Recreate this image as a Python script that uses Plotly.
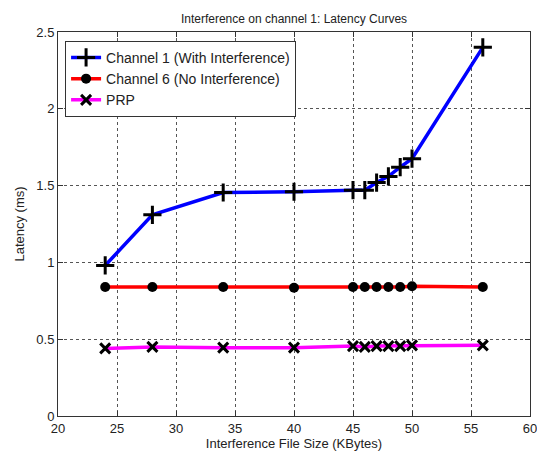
import plotly.graph_objects as go

file_size = [24, 28, 34, 40, 45, 46, 47, 48, 49, 50, 56]
ch1_latency = [0.98, 1.31, 1.455, 1.46, 1.47, 1.47, 1.52, 1.56, 1.62, 1.675, 2.40]
ch6_latency = [0.84, 0.84, 0.84, 0.835, 0.84, 0.84, 0.84, 0.84, 0.84, 0.845, 0.84]
prp_latency = [0.44, 0.45, 0.445, 0.445, 0.455, 0.45, 0.455, 0.455, 0.455, 0.46, 0.46]

names = ["Channel 1 (With Interference)", "Channel 6 (No Interference)", "PRP"]
x_ticks = [20, 25, 30, 35, 40, 45, 50, 55, 60]
y_ticks = [0, 0.5, 1, 1.5, 2, 2.5]

fig = go.Figure()
fig.add_trace(go.Scatter(
    x=file_size, y=ch1_latency, name=names[0], mode="lines+markers",
    line=dict(color="#0000FF", width=3.5),
    marker=dict(symbol="cross-thin", size=13, color="black",
                line=dict(color="black", width=3))))
fig.add_trace(go.Scatter(
    x=file_size, y=ch6_latency, name=names[1], mode="lines+markers",
    line=dict(color="#FF0000", width=3.5),
    marker=dict(symbol="circle", size=10, color="black",
                line=dict(color="black", width=0))))
fig.add_trace(go.Scatter(
    x=file_size, y=prp_latency, name=names[2], mode="lines+markers",
    line=dict(color="#FF00FF", width=3.5),
    marker=dict(symbol="x-thin", size=10, color="black",
                line=dict(color="black", width=3))))

axis_common = dict(
    showline=True, linecolor="#333333", linewidth=1, mirror="ticks",
    ticks="inside", ticklen=5, tickcolor="#333333",
    showgrid=True, gridcolor="#555555", griddash="dot", gridwidth=1,
    zeroline=False, tickfont=dict(family="Arial", size=13, color="#222222"),
)

fig.update_layout(
    width=537, height=451,
    margin=dict(l=50, r=8, t=24, b=43),
    paper_bgcolor="white", plot_bgcolor="white",
    title=dict(text="Interference on channel 1: Latency Curves",
               xref="paper", x=0.5, xanchor="center", y=0.985, yanchor="top",
               font=dict(family="Arial", size=12, color="#222222")),
    xaxis=dict(range=[20, 60], tickvals=x_ticks, ticktext=[str(v) for v in x_ticks],
               title=dict(text="Interference File Size (KBytes)", standoff=1,
                          font=dict(family="Arial", size=13, color="#222222")),
               **axis_common),
    yaxis=dict(range=[0, 2.5], tickvals=y_ticks, ticktext=["0", "0.5", "1", "1.5", "2", "2.5"],
               title=dict(text="Latency (ms)", standoff=8,
                          font=dict(family="Arial", size=13, color="#222222")),
               **axis_common),
    legend=dict(x=0.015, y=0.977, xanchor="left", yanchor="top",
                bgcolor="white", bordercolor="#333333", borderwidth=1,
                font=dict(family="Arial", size=14, color="#222222"),
                tracegroupgap=0, itemwidth=30),
    showlegend=True,
)

fig.write_html("out.html")
